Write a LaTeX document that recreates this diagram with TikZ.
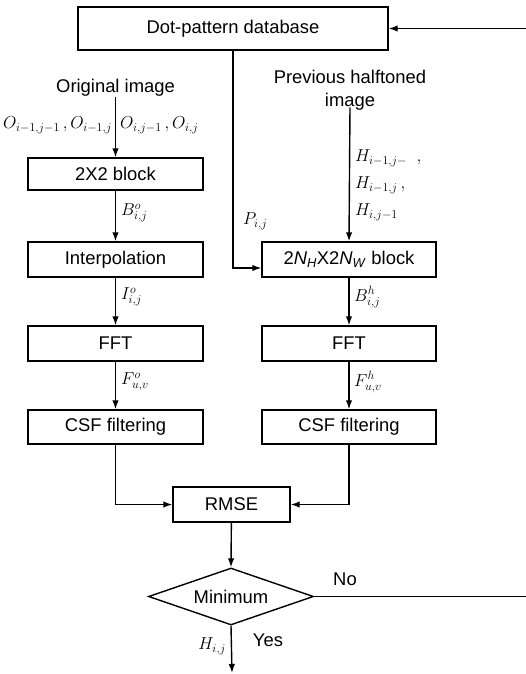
\documentclass[tikz,border=0pt]{standalone}
\usepackage{fontspec}
\setmainfont{Liberation Sans}
\usetikzlibrary{arrows.meta,shapes.geometric}
\begin{document}
\begin{tikzpicture}[x=1pt,y=-1pt,
  txt/.style={inner sep=0pt,font=\fontsize{18.4}{23}\selectfont},
  box/.style={draw,line width=1.4pt,inner sep=0pt,minimum width=175pt,minimum height=35pt,font=\fontsize{18.4}{22}\selectfont},
  lbl/.style={inner sep=0pt,font=\fontsize{18}{21}\selectfont},
  olbl/.style={inner sep=0pt,font=\fontsize{16.5}{20}\selectfont},
  arr/.style={line width=1.4pt,-{Latex[length=9pt,width=6.5pt]}}
]
\useasboundingbox (0,0) rectangle (526,674);
% boxes
\node[box,minimum width=310pt,minimum height=43pt] (db) at (233,28.5) {Dot-pattern database};
\node[box,minimum height=32pt] (b22) at (115.5,174) {2X2 block};
\node[box] (interp) at (115.5,259.5) {Interpolation};
\node[box] (fftl) at (115.5,343.5) {FFT};
\node[box,minimum height=34pt] (csfl) at (115.5,427) {CSF filtering};
\node[box,minimum width=174pt] (nblk) at (349,259.5) {2\textit{N}\textsubscript{\textit{H}}X2\textit{N}\textsubscript{\textit{W}} block};
\node[box,minimum width=174pt] (fftr) at (349,343.5) {FFT};
\node[box,minimum width=174pt,minimum height=34pt] (csfr) at (349,427) {CSF filtering};
\node[box,minimum width=117pt] (rmse) at (231.5,504.5) {RMSE};
\node[box,diamond,aspect=2.9,minimum width=165pt,minimum height=57pt] (mini) at (231,596.5) {Minimum};
% plain texts
\node[txt] (orig) at (115.5,88) {Original image};
\node[txt,align=center] (prev) at (350,90) {Previous halftoned\\image};
\node[txt] (no) at (345,579) {No};
\node[txt] (yes) at (268,640) {Yes};
% labels
\node[olbl,anchor=east] (ol) at (112,125) {$O_{i-1,j-1}\,,O_{i-1,j}$};
\node[olbl,anchor=west] (or) at (120,125) {$O_{i,j-1}\,,O_{i,j}$};
\node[lbl,anchor=west] (bo) at (121,213) {$B^{o}_{i,j}$};
\node[lbl,anchor=west] (io) at (121,297) {$I^{o}_{i,j}$};
\node[lbl,anchor=west] (fo) at (121,382) {$F^{o}_{u,v}$};
\node[lbl,anchor=west] (h1) at (355,158) {$H_{i-1,j-}\;\;,$};
\node[lbl,anchor=west] (h2) at (355,185) {$H_{i-1,j}\,,$};
\node[lbl,anchor=west] (h3) at (355,212) {$H_{i,j-1}$};
\node[lbl,anchor=west] (pij) at (243,221) {$P_{i,j}$};
\node[lbl,anchor=west] (bh) at (354,297) {$B^{h}_{i,j}$};
\node[lbl,anchor=west] (fh) at (354,382) {$F^{h}_{u,v}$};
\node[lbl,anchor=east] (hij) at (226,646) {$H_{i,j}$};
% coordinates
\coordinate (out) at (232,673);
\coordinate (loopb) at (540,596.5);
\coordinate (loopt) at (540,28.5);
% connectors
\draw[arr] (orig.south) -- (b22.north);
\draw[arr] ([yshift=3pt]prev.south) -- (nblk.north);
\draw[arr] (db.south) |- ([yshift=-8.5pt]nblk.west);
\draw[arr] (b22) -- (interp);
\draw[arr] (interp) -- (fftl);
\draw[arr] (fftl) -- (csfl);
\draw[arr] (nblk) -- (fftr);
\draw[arr] (fftr) -- (csfr);
\draw[arr] (csfl.south) |- (rmse.west);
\draw[arr] (csfr.south) |- (rmse.east);
\draw[arr] (rmse) -- (mini.north);
\draw[arr] (mini.south) -- (out);
\draw[arr] (mini.east) -- (loopb) -- (loopt) -- (db.east);
\end{tikzpicture}
\end{document}
